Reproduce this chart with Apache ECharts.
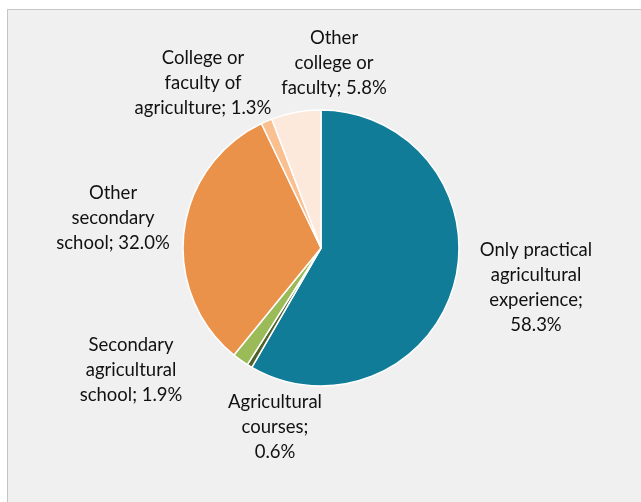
<!DOCTYPE html>
<html><head><meta charset="utf-8">
<script src="https://cdn.jsdelivr.net/npm/echarts@6/dist/echarts.min.js"></script>
<style>html,body{margin:0;padding:0;background:#fff}#c{width:641px;height:502px}</style>
</head><body><div id="c"></div>
<script>
const categories = [
  "Only practical agricultural experience",
  "Agricultural courses",
  "Secondary agricultural school",
  "Other secondary school",
  "College or faculty of agriculture",
  "Other college or faculty"
];
const values = [58.3, 0.6, 1.9, 32.0, 1.3, 5.8];
const labelLines = [
  ["Only practical", "agricultural", "experience;"],
  ["Agricultural", "courses;"],
  ["Secondary", "agricultural", "school; 1.9%"],
  ["Other", "secondary", "school; 32.0%"],
  ["College or", "faculty of", "agriculture; 1.3%"],
  ["Other", "college or", "faculty; 5.8%"]
];
const colors = ["#117C98", "#4F6228", "#9BBB59", "#EA914A", "#FAC090", "#FDE9DC"];
const labelPos = [[536, 288], [275, 427], [131, 370], [113, 218], [203, 83], [334, 63]];

const chart = echarts.init(document.getElementById('c'));
chart.setOption({
  backgroundColor: '#ffffff',
  animation: false,
  graphic: [{
    type: 'rect', z: -1, silent: true,
    shape: { x: 7.5, y: 9.5, width: 640, height: 500 },
    style: { fill: '#F0F0F0', stroke: '#C4C4C4', lineWidth: 1 }
  }],
  series: [{
    type: 'pie',
    center: [321, 248],
    radius: [0, 138],
    startAngle: 90,
    clockwise: true,
    data: categories.map((n, i) => ({ name: n, value: values[i], itemStyle: { color: colors[i] } })),
    itemStyle: { borderColor: '#ffffff', borderWidth: 1.5 },
    labelLine: { show: false },
    label: {
      show: true,
      position: 'outside',
      fontFamily: 'Lato',
      fontSize: 18.5,
      lineHeight: 25,
      color: '#111111',
      align: 'center',
      formatter: p => {
        const lines = labelLines[p.dataIndex].slice();
        const last = lines[lines.length - 1];
        if (!/%$/.test(last)) lines.push(values[p.dataIndex].toFixed(1) + '%');
        return lines.join('\n');
      }
    },
    labelLayout: p => ({
      x: labelPos[p.dataIndex][0],
      y: labelPos[p.dataIndex][1],
      align: 'center',
      verticalAlign: 'middle'
    })
  }]
});
</script></body></html>
